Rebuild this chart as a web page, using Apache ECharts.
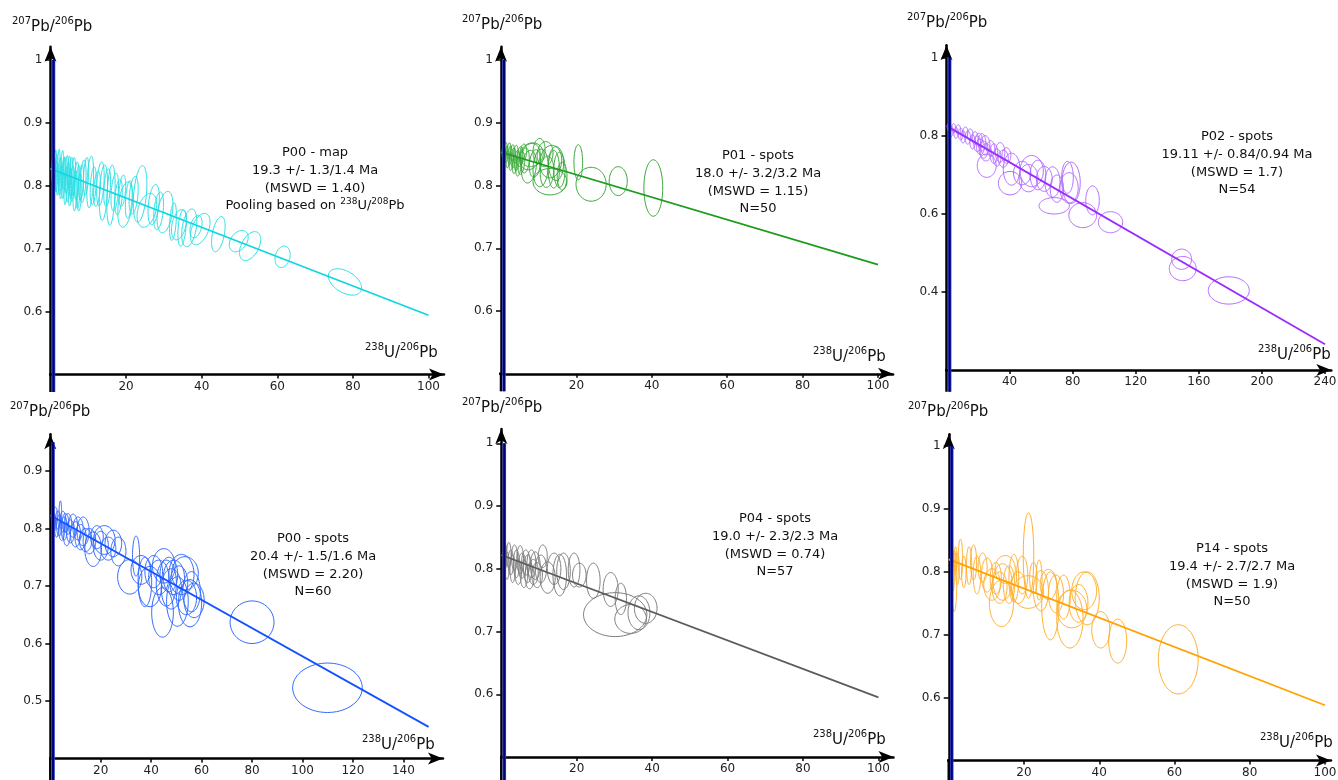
<!DOCTYPE html>
<html><head><meta charset="utf-8">
<script src="https://cdn.jsdelivr.net/npm/echarts@6/dist/echarts.min.js"></script>
<style>html,body{margin:0;padding:0;background:#fff}#c{width:1338px;height:780px}</style>
</head><body><div id="c"></div>
<script>
// ---------- DATA (error ellipses: [x, y, halfX, halfY, rho]) ----------
const p00MapEllipses = [
[0.7,0.828,0.3,0.024,0.3],[1.0,0.815,0.3,0.03,0.3],[1.3,0.835,0.3,0.022,0.3],[1.6,0.82,0.35,0.03,0.3],[1.9,0.81,0.35,0.025,0.3],
[2.2,0.83,0.35,0.028,0.3],[2.5,0.815,0.4,0.03,0.3],[2.8,0.805,0.4,0.026,0.3],[3.1,0.826,0.4,0.03,0.3],[3.4,0.812,0.45,0.032,0.35],
[3.7,0.82,0.4,0.026,0.3],[4.0,0.8,0.45,0.03,0.35],[4.3,0.818,0.45,0.03,0.35],[4.6,0.806,0.5,0.032,0.35],[4.9,0.822,0.45,0.025,0.35],
[5.2,0.798,0.5,0.03,0.35],[5.5,0.812,0.5,0.033,0.35],[5.8,0.803,0.55,0.028,0.35],[6.1,0.815,0.55,0.03,0.35],[6.5,0.792,0.55,0.032,0.35],
[6.9,0.808,0.6,0.03,0.35],[7.3,0.798,0.6,0.034,0.35],[7.7,0.79,0.6,0.03,0.35],[8.1,0.805,0.65,0.028,0.35],[8.6,0.807,0.8,0.034,0.35],
[9.4,0.815,0.7,0.03,0.35],[10.5,0.806,0.9,0.041,0.35],[11.3,0.8,0.8,0.03,0.35],[12.3,0.795,0.9,0.028,0.35],[13.2,0.803,1.0,0.035,0.35],
[14.0,0.789,1.1,0.044,0.3],[15.0,0.797,0.9,0.03,0.35],[16.0,0.785,1.1,0.048,0.3],[17.0,0.79,1.0,0.03,0.35],[18.0,0.782,1.0,0.028,0.35],
[19.0,0.792,0.9,0.025,0.35],[19.8,0.77,2.0,0.036,0.35],[20.7,0.778,0.9,0.03,0.35],[22.0,0.785,1.2,0.03,0.35],[23.7,0.787,1.8,0.045,0.35],
[25.5,0.761,2.6,0.027,0.35],[27.3,0.77,1.5,0.032,0.35],[28.6,0.76,1.3,0.03,0.35],[30.3,0.758,2.1,0.033,0.35],[32.4,0.743,0.9,0.03,0.35],
[34.0,0.738,2.0,0.024,0.35],[34.8,0.733,1.1,0.029,0.35],[36.7,0.733,2.0,0.03,0.35],[38.5,0.735,1.6,0.018,0.35],[39.6,0.731,2.6,0.025,0.45],
[44.4,0.723,1.8,0.028,0.45],[49.8,0.712,2.5,0.017,0.35],[52.8,0.704,2.8,0.023,0.45],[61.4,0.687,2.0,0.017,0.2],[77.9,0.647,4.4,0.021,-0.45]
];
const p01SpotEllipses = [
[0.6,0.855,0.3,0.012,0.3],[0.9,0.847,0.35,0.013,0.3],[1.2,0.858,0.4,0.011,0.3],[1.5,0.85,0.4,0.013,0.3],[1.8,0.842,0.45,0.014,0.3],
[2.1,0.856,0.5,0.012,0.3],[2.4,0.848,0.5,0.015,0.3],[2.7,0.838,0.55,0.014,0.3],[3.0,0.852,0.55,0.013,0.3],[3.3,0.844,0.6,0.016,0.3],
[3.6,0.834,0.6,0.015,0.3],[3.9,0.85,0.65,0.014,0.3],[4.2,0.84,0.7,0.016,0.3],[4.6,0.83,0.7,0.015,0.3],[5.0,0.846,0.8,0.016,0.3],
[5.4,0.836,0.9,0.018,0.3],[5.9,0.852,0.9,0.014,0.2],[6.4,0.84,1.1,0.02,0.2],[7.4,0.83,2.0,0.026,0.2],[7.7,0.846,2.7,0.021,0.2],
[8.1,0.849,3.1,0.019,0.1],[9.0,0.835,1.5,0.022,0.2],[10.1,0.855,1.6,0.02,0.1],[10.5,0.828,2.0,0.03,0.1],[11.7,0.85,2.1,0.02,0.1],
[12.2,0.822,1.8,0.025,0.1],[13.0,0.806,4.5,0.021,0],[13.2,0.838,2.9,0.026,0.1],[14.0,0.826,1.5,0.03,0],[14.6,0.835,2.0,0.027,0],
[15.5,0.825,1.5,0.028,0],[16.2,0.815,1.3,0.022,0],[20.5,0.837,1.15,0.028,0],[23.9,0.802,4.0,0.027,0],[31.1,0.807,2.4,0.023,0],
[40.4,0.796,2.5,0.045,0]
];
const p02SpotEllipses = [
[1.5,0.822,1.0,0.011,0],[3,0.812,1.2,0.013,0],[4.5,0.82,1.2,0.012,0],[6,0.808,1.3,0.014,0],[7.5,0.816,1.4,0.013,0],
[9,0.805,1.5,0.015,0],[10.5,0.798,1.4,0.016,0],[12,0.81,1.6,0.013,0],[13.5,0.796,1.7,0.017,0],[15,0.803,1.8,0.015,0],
[16.5,0.785,1.7,0.018,0],[18,0.795,2.0,0.016,0],[19.5,0.78,2.2,0.02,0],[20.5,0.79,2.2,0.017,0],[21.5,0.772,2.5,0.02,0],
[22.5,0.784,2.4,0.022,0],[23.5,0.765,2.8,0.022,0],[24.5,0.776,3.0,0.025,0],[25,0.758,3.5,0.022,0],[25.5,0.724,6.0,0.03,0],
[28,0.768,2.5,0.02,0],[30,0.755,2.5,0.025,0],[32,0.745,2.5,0.022,0],[34,0.758,3.0,0.025,0],[36,0.742,3.2,0.022,0],
[38,0.75,2.8,0.02,0],[40.3,0.679,7.4,0.030,0],[41.3,0.715,5.3,0.041,0],[48,0.705,5.5,0.03,0],[52,0.692,6.0,0.035,0],
[54,0.71,7.4,0.04,0],[58,0.70,5.0,0.038,0],[62,0.69,5.0,0.032,0],[67.2,0.682,4.8,0.039,0],[68.3,0.621,9.6,0.021,0],
[70,0.665,4.2,0.035,0],[76.7,0.694,3.7,0.041,0],[77.7,0.667,5.8,0.039,0],[79,0.68,5.8,0.053,0],[86.4,0.597,8.8,0.032,0],
[92.6,0.635,4.3,0.037,0],[104,0.579,7.7,0.027,0],[149.1,0.484,6.3,0.026,0],[149.8,0.460,8.5,0.031,0],[179,0.404,13,0.035,0]
];
const p00SpotEllipses = [
[1,0.82,0.6,0.013,0],[1.5,0.81,0.7,0.015,0],[2,0.825,0.8,0.012,0],[2.5,0.8,0.8,0.015,0],[3,0.815,0.9,0.016,0],
[3.5,0.805,1.0,0.018,0],[4,0.828,0.5,0.02,0],[4.5,0.795,1.1,0.016,0],[5,0.812,1.2,0.018,0],[5.5,0.8,1.2,0.02,0],
[6,0.81,1.3,0.016,0],[6.5,0.79,1.4,0.02,0],[7,0.808,1.5,0.018,0],[8,0.795,1.6,0.02,0],[9,0.805,1.8,0.02,0],
[10,0.79,2.0,0.022,0],[11,0.8,2.0,0.02,0],[12,0.785,2.2,0.022,0],[13,0.795,2.4,0.025,0],[14,0.78,2.5,0.02,0],
[15.5,0.778,2.5,0.022,0],[17,0.764,3.3,0.030,0],[18.5,0.785,2.5,0.02,0],[20,0.77,3.0,0.025,0],[21.4,0.78,4.3,0.025,0],
[23,0.765,3.0,0.02,0],[25,0.774,3.3,0.023,0],[27,0.76,3.0,0.025,0],[31.5,0.716,4.8,0.030,0],[34,0.752,1.4,0.035,0],
[36,0.728,4.0,0.025,0],[37.5,0.707,2.7,0.043,0],[39.5,0.699,4.6,0.035,0],[41,0.725,3.5,0.028,0],[43,0.715,4.0,0.03,0],
[44.5,0.654,4.3,0.043,0],[45,0.735,4.5,0.03,0],[46,0.705,4.0,0.04,0],[47,0.72,3.5,0.03,0],[48,0.695,4.0,0.035,0],
[49,0.715,4.2,0.03,0],[50.4,0.673,4.3,0.043,0],[51,0.705,3.5,0.03,0],[52,0.72,5.0,0.035,0],[53.4,0.722,5.3,0.029,0],
[54,0.68,4.0,0.03,0],[55.4,0.670,4.6,0.041,0],[56,0.69,3.5,0.035,0],[57,0.675,4.0,0.03,0],[80,0.637,8.7,0.037,0],
[109.9,0.523,13.8,0.043,0]
];
const p04SpotEllipses = [
[1.0,0.82,0.5,0.02,0],[1.5,0.805,0.6,0.022,0],[2.0,0.822,0.6,0.02,0],[2.5,0.81,0.7,0.02,0],[3.0,0.8,0.7,0.022,0],
[3.5,0.818,0.8,0.02,0],[4.0,0.808,0.8,0.022,0],[4.5,0.795,0.9,0.02,0],[5.0,0.815,0.9,0.022,0],[5.5,0.805,1.0,0.02,0],
[6.0,0.792,1.0,0.022,0],[6.5,0.81,1.1,0.02,0],[7.0,0.8,1.1,0.022,0],[7.5,0.788,1.2,0.02,0],[8.0,0.808,1.2,0.022,0],
[8.5,0.795,1.3,0.02,0],[9.0,0.805,1.3,0.022,0],[9.5,0.79,1.4,0.02,0],[10.5,0.80,1.5,0.022,0],[11,0.82,1.2,0.018,0],
[12.3,0.786,2.0,0.025,0],[14,0.80,1.8,0.025,0],[15.5,0.79,1.8,0.033,0],[16.5,0.796,1.8,0.029,0],[19.3,0.798,1.55,0.027,0],
[20.7,0.79,1.8,0.019,0],[24.4,0.781,1.8,0.028,0],[29,0.767,2.0,0.027,0],[31.7,0.752,1.5,0.025,0],[30.2,0.727,8.4,0.035,0],
[34.3,0.72,4.2,0.023,0],[36.5,0.73,2.9,0.027,0],[38.3,0.737,3.0,0.024,0]
];
const p14SpotEllipses = [
[0.8,0.815,0.3,0.02,0],[1.2,0.80,0.3,0.03,0],[1.45,0.786,0.7,0.049,0],[1.8,0.82,0.4,0.02,0],[2.3,0.805,0.5,0.025,0],
[3.1,0.82,0.6,0.032,0],[4.0,0.80,0.6,0.025,0],[5.4,0.81,0.7,0.03,0],[6.6,0.815,0.8,0.028,0],[7.5,0.795,1.0,0.03,0],
[9.0,0.807,1.2,0.023,0],[10.2,0.795,1.5,0.027,0],[11.5,0.78,2.2,0.025,0],[12.5,0.79,1.5,0.025,0],[13.5,0.775,2.0,0.025,0],
[14,0.75,3.2,0.037,0],[14.3,0.784,2.5,0.029,0],[15,0.804,2.7,0.022,0],[16,0.78,1.5,0.03,0],[17.3,0.79,1.3,0.038,0],
[18.5,0.775,2.0,0.025,0],[19.5,0.795,1.5,0.03,0],[21.1,0.768,4.1,0.026,0],[21.2,0.826,1.4,0.068,0],[22.5,0.79,1.0,0.025,0],
[24,0.787,0.8,0.032,0],[24.5,0.77,2.0,0.032,0],[26.5,0.78,2.2,0.024,0],[27,0.746,2.3,0.054,0],[28.5,0.765,2.0,0.03,0],
[30.5,0.76,1.8,0.035,0],[32.2,0.725,3.5,0.046,0],[32.7,0.741,4.0,0.03,0],[34.5,0.75,2.5,0.03,0],[36,0.77,3.3,0.03,0],
[36.8,0.758,3.2,0.042,0],[40.4,0.708,2.4,0.029,0],[44.9,0.69,2.4,0.035,0],[61,0.661,5.3,0.055,0]
];
// regression lines (start, end)
const p00MapLine = [[0,0.827],[100,0.594]];
const p01SpotLine = [[0,0.853],[100,0.674]];
const p02SpotLine = [[0,0.826],[240,0.266]];
const p00SpotLine = [[0,0.823],[150,0.455]];
const p04SpotLine = [[0,0.822],[100,0.595]];
const p14SpotLine = [[0,0.820],[100,0.588]];
// vertical bar near the y axis: [x, top]
const barValues = [[0.8,1],[0.8,1],[2,1],[1.1,0.95],[0.8,1],[0.8,1]];
// ticks
const xTicks100 = [20,40,60,80,100];
const xTicks240 = [40,80,120,160,200,240];
const xTicks140 = [20,40,60,80,100,120,140];
const yTicks06 = [0.6,0.7,0.8,0.9,1];
const yTicks04 = [0.4,0.6,0.8,1];
const yTicks05 = [0.5,0.6,0.7,0.8,0.9];
// annotation texts
const p00MapText = ['P00 - map','19.3 +/- 1.3/1.4 Ma','(MSWD = 1.40)','Pooling based on {s|238}U/{s|208}Pb'];
const p01SpotText = ['P01 - spots','18.0 +/- 3.2/3.2 Ma','(MSWD = 1.15)','N=50'];
const p02SpotText = ['P02 - spots','19.11 +/- 0.84/0.94 Ma','(MSWD = 1.7)','N=54'];
const p00SpotText = ['P00 - spots','20.4 +/- 1.5/1.6 Ma','(MSWD = 2.20)','N=60'];
const p04SpotText = ['P04 - spots','19.0 +/- 2.3/2.3 Ma','(MSWD = 0.74)','N=57'];
const p14SpotText = ['P14 - spots','19.4 +/- 2.7/2.7 Ma','(MSWD = 1.9)','N=50'];
const yAxisName = '{s|207}{n|Pb/}{s|206}{n|Pb}';
const xAxisName = '{s|238}{n|U/}{s|206}{n|Pb}';

// ---------- LAYOUT / STYLE ----------
const FONT = 'DejaVu Sans, Verdana, sans-serif';
const panels = [
 {ell:p00MapEllipses, line:p00MapLine, text:p00MapText, xt:xTicks100, yt:yTicks06, ec:'#2ae0e6', lc:'#10d6e0',
  L:{x0:50.5,kx:3.78,xExt:-4.9,xmax:104.1,yRef:1,yPx:60,ky:628.75,ymin:0.5,ymax:1.021,yExt:0.472},
  tx:315, ty:153, yn:[12,27], xn:[365,353]},
 {ell:p01SpotEllipses, line:p01SpotLine, text:p01SpotText, xt:xTicks100, yt:yTicks06, ec:'#36a836', lc:'#1c9c1c',
  L:{x0:501,kx:3.77,xExt:-4.8,xmax:104,yRef:1,yPx:60,ky:627.5,ymin:0.5,ymax:1.021,yExt:0.472},
  tx:758, ty:156, yn:[462,25], xn:[813,357]},
 {ell:p02SpotEllipses, line:p02SpotLine, text:p02SpotText, xt:xTicks240, yt:yTicks04, ec:'#b46aff', lc:'#9a2cff',
  L:{x0:946.5,kx:1.577,xExt:-12.4,xmax:244,yRef:1,yPx:58,ky:390,ymin:0.2,ymax:1.033,yExt:0.144},
  tx:1237, ty:137, yn:[907,23], xn:[1258,355]},
 {ell:p00SpotEllipses, line:p00SpotLine, text:p00SpotText, xt:xTicks140, yt:yTicks05, ec:'#3068ff', lc:'#1452ff',
  L:{x0:50.3,kx:2.522,xExt:-7.2,xmax:155.7,yRef:0.5,yPx:701,ky:575,ymin:0.4,ymax:0.964,yExt:0.362},
  tx:313, ty:539, yn:[10,412], xn:[362,745]},
 {ell:p04SpotEllipses, line:p04SpotLine, text:p04SpotText, xt:xTicks100, yt:yTicks06, ec:'#7c7c7c', lc:'#5c5c5c',
  L:{x0:501.3,kx:3.771,xExt:-4.8,xmax:104,yRef:0.6,yPx:694.3,ky:627.5,ymin:0.5,ymax:1.0228,yExt:0.462},
  tx:775, ty:519, yn:[462,408], xn:[813,740]},
 {ell:p14SpotEllipses, line:p14SpotLine, text:p14SpotText, xt:xTicks100, yt:yTicks06, ec:'#ffb030', lc:'#ffa200',
  L:{x0:948.75,kx:3.7625,xExt:-5.2,xmax:101.6,yRef:0.6,yPx:697.7,ky:629,ymin:0.5,ymax:1.019,yExt:0.468},
  tx:1232, ty:549, yn:[908,412], xn:[1260,743]}
];

const option = {animation:false, backgroundColor:'#fff', grid:[], xAxis:[], yAxis:[], series:[], graphic:{elements:[]}};
const axisNameRich = {
  s:{fontSize:10, lineHeight:8, verticalAlign:'top', fontFamily:FONT, fill:'#111'},
  n:{fontSize:15, lineHeight:22, fontFamily:FONT, fill:'#111'}
};
const AX = {color:'#000', width:2.5};
panels.forEach((p,i)=>{
  const L = p.L;
  option.grid.push({left:L.x0, width:L.xmax*L.kx,
    top:L.yPx-(L.ymax-L.yRef)*L.ky, height:(L.ymax-L.ymin)*L.ky, containLabel:false, outerBoundsMode:'none'});
  option.xAxis.push({gridIndex:i, type:'value', min:0, max:L.xmax,
    axisLine:{onZero:false, lineStyle:AX, symbol:['none','arrow'], symbolSize:[9,15]},
    axisTick:{show:true, customValues:p.xt, length:4, lineStyle:{color:'#000', width:1.5}},
    axisLabel:{customValues:p.xt, margin:6, fontSize:12, color:'#222', fontFamily:FONT},
    splitLine:{show:false}});
  option.yAxis.push({gridIndex:i, type:'value', min:L.ymin, max:L.ymax, position:'left',
    axisLine:{onZero:false, lineStyle:AX, symbol:['none','arrow'], symbolSize:[9,15]},
    axisTick:{show:true, customValues:p.yt, length:5, lineStyle:{color:'#000', width:1.5}},
    axisLabel:{customValues:p.yt, margin:8, fontSize:12, color:'#222', fontFamily:FONT,
      formatter:v=>String(+(+v).toFixed(2))},
    splitLine:{show:false}});
  const col = p.ec;
  option.series.push({type:'custom', xAxisIndex:i, yAxisIndex:i, data:p.ell, encode:{x:0,y:1}, z:2, silent:true, clip:false,
    renderItem:(params, api)=>{
      const cx=api.value(0), cy=api.value(1), sx=api.value(2), sy=api.value(3), r=api.value(4);
      const q=Math.sqrt(1-r*r), pts=[];
      for(let k=0;k<72;k++){const t=k/72*Math.PI*2;
        pts.push(api.coord([cx+sx*Math.cos(t), cy+sy*(r*Math.cos(t)+q*Math.sin(t))]));}
      return {type:'polygon', shape:{points:pts}, style:{fill:'none', stroke:col, lineWidth:1}};
    }});
  option.series.push({type:'line', xAxisIndex:i, yAxisIndex:i, data:p.line, symbol:'none', z:3, silent:true,
    lineStyle:{color:p.lc, width:1.8}});
  // axis extensions: y axis below the x axis, x axis left of the y axis
  option.series.push({type:'line', xAxisIndex:i, yAxisIndex:i, data:[[0,L.yExt],[0,L.ymin]], symbol:'none', clip:false, z:4, silent:true,
    lineStyle:AX});
  option.series.push({type:'line', xAxisIndex:i, yAxisIndex:i, data:[[L.xExt,L.ymin],[0,L.ymin]], symbol:'none', clip:false, z:4, silent:true,
    lineStyle:AX});
  const b = barValues[i];
  option.series.push({type:'line', xAxisIndex:i, yAxisIndex:i, data:[[b[0],L.yExt],[b[0],b[1]]], symbol:'none', clip:false, z:5, silent:true,
    lineStyle:{color:'#3344cc', width:3.5}});
  option.series.push({type:'line', xAxisIndex:i, yAxisIndex:i, data:[[b[0],L.yExt],[b[0],b[1]]], symbol:'none', clip:false, z:6, silent:true,
    lineStyle:{color:'#000070', width:2}});
  // texts
  option.graphic.elements.push({type:'text', x:p.tx, y:p.ty-8.8, silent:true, style:{
    text:p.text.join('\n'), fontSize:13, fontFamily:FONT, fill:'#111', lineHeight:17.6,
    align:'center', textAlign:'center', verticalAlign:'top', textVerticalAlign:'top',
    rich:{s:{fontSize:9, lineHeight:10, verticalAlign:'top', fontFamily:FONT, fill:'#111'}}}});
  option.graphic.elements.push({type:'text', x:p.yn[0], y:p.yn[1], silent:true, style:{
    text:yAxisName, rich:axisNameRich, fontFamily:FONT, fill:'#111',
    align:'left', textAlign:'left', verticalAlign:'middle', textVerticalAlign:'middle'}});
  option.graphic.elements.push({type:'text', x:p.xn[0], y:p.xn[1], silent:true, style:{
    text:xAxisName, rich:axisNameRich, fontFamily:FONT, fill:'#111',
    align:'left', textAlign:'left', verticalAlign:'middle', textVerticalAlign:'middle'}});
});
const chart = echarts.init(document.getElementById('c'), null, {renderer:'canvas'});
chart.setOption(option);
</script>
</body></html>
